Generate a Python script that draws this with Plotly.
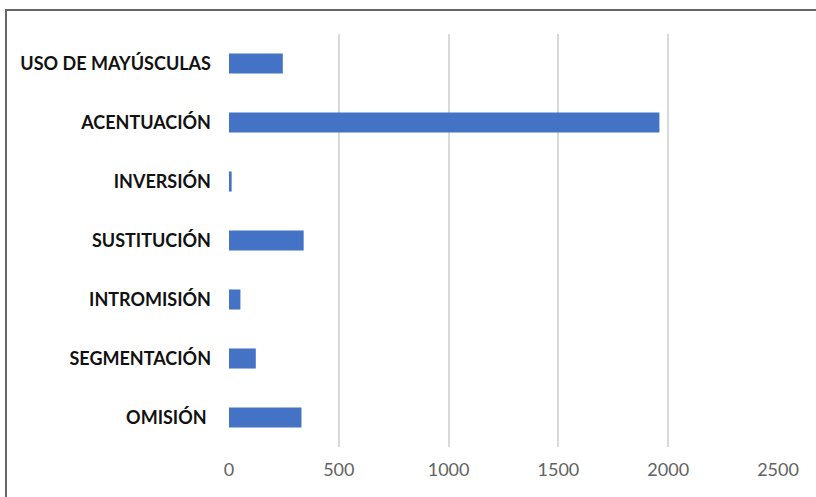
import plotly.graph_objects as go

# Error categories (top to bottom as drawn) and their counts
categories = [
    "USO DE MAYÚSCULAS",
    "ACENTUACIÓN",
    "INVERSIÓN",
    "SUSTITUCIÓN",
    "INTROMISIÓN",
    "SEGMENTACIÓN",
    "OMISIÓN ",
]
counts = [245, 1960, 12, 340, 52, 122, 330]
x_ticks = [0, 500, 1000, 1500, 2000, 2500]

W, H = 816, 497
L, R, T, B = 229, W - 778, 34, H - 447
pw, ph = W - L - R, H - T - B


def px_x(x):
    return (x - L) / pw


def px_y(y):
    return (H - B - y) / ph


fig = go.Figure(
    go.Bar(
        x=counts[::-1],
        y=categories[::-1],
        orientation="h",
        marker=dict(color="#4472C4", line=dict(width=0)),
        width=0.34,
    )
)

fig.update_layout(
    width=W,
    height=H,
    margin=dict(l=L, r=R, t=T, b=B),
    paper_bgcolor="white",
    plot_bgcolor="white",
    showlegend=False,
    xaxis=dict(
        range=[0, 2500],
        tickvals=x_ticks,
        ticktext=[str(v) for v in x_ticks],
        showgrid=True,
        gridcolor="#d9d9d9",
        gridwidth=2,
        zeroline=False,
        showline=False,
        ticks="",
        ticklabelstandoff=10,
        tickfont=dict(family="Lato, Open Sans, sans-serif", size=18, color="#626262"),
    ),
    yaxis=dict(
        showgrid=False,
        zeroline=False,
        showline=False,
        ticks="",
        ticklabelstandoff=17,
        tickfont=dict(family="Lato, Open Sans, sans-serif", size=18, color="#111111", weight="bold"),
    ),
    shapes=[
        dict(
            type="rect",
            xref="paper",
            yref="paper",
            x0=px_x(6),
            x1=px_x(830),
            y0=px_y(510),
            y1=px_y(10),
            line=dict(color="#666666", width=2),
            fillcolor="rgba(0,0,0,0)",
            layer="below",
        )
    ],
)

fig.write_html("out.html")
